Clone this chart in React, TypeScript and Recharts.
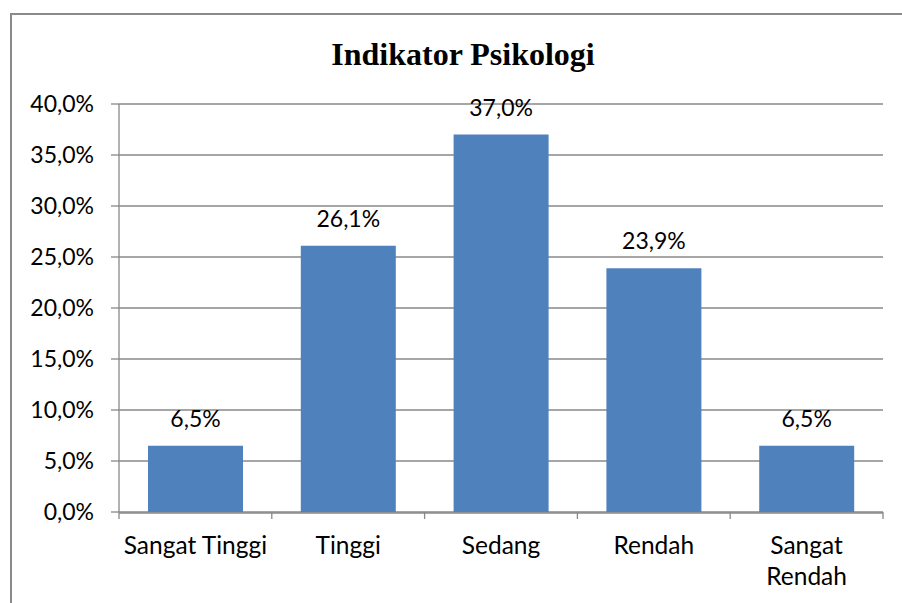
import React from "react";
import { BarChart, Bar, XAxis, YAxis, CartesianGrid, LabelList } from "recharts";

const categories = ["Sangat Tinggi", "Tinggi", "Sedang", "Rendah", "Sangat Rendah"];
const tickLabelLines = [["Sangat Tinggi"], ["Tinggi"], ["Sedang"], ["Rendah"], ["Sangat", "Rendah"]];
const values = [6.5, 26.1, 37.0, 23.9, 6.5];
const yTicks = [0, 5, 10, 15, 20, 25, 30, 35, 40];
const boundaryTicks = [0, 1, 2, 3, 4, 5];
const title = "Indikator Psikologi";

const data = categories.map((c, i) => ({ name: c, idx: i + 0.5, value: values[i] }));

const FONT = "Lato, 'Open Sans', sans-serif";
const GRID = "#898989";
const fmt = (v: number) => v.toFixed(1).replace(".", ",") + "%";

const CatTick = (props: any) => {
  const { x, y, payload } = props;
  const idx = categories.indexOf(payload.value);
  const lines = idx >= 0 ? tickLabelLines[idx] : [String(payload.value)];
  return (
    <text x={x} y={y} textAnchor="middle" fill="#000" fontFamily={FONT} fontSize={24.5}>
      {lines.map((l: string, i: number) => (
        <tspan key={i} x={x} dy={i === 0 ? 41 : 31}>
          {l}
        </tspan>
      ))}
    </text>
  );
};

const EmptyTick = () => <g />;

export default function App() {
  return (
    <div style={{ position: "absolute", left: 0, top: 0, width: 902, height: 603, overflow: "hidden", background: "#fff" }}>
      <div
        style={{
          position: "absolute",
          left: 10,
          top: 13,
          width: 1000,
          height: 700,
          border: "2px solid #8a8a8a",
          boxSizing: "border-box",
        }}
      />
      <div
        style={{
          position: "absolute",
          left: 0,
          width: 926,
          top: 34,
          textAlign: "center",
          fontFamily: "'Liberation Serif', 'Times New Roman', serif",
          fontWeight: "bold",
          fontSize: 32,
          lineHeight: "40px",
          color: "#000",
        }}
      >
        {title}
      </div>
      <div style={{ position: "absolute", left: 0, top: 0 }}>
        <BarChart
          width={902}
          height={603}
          data={data}
          margin={{ top: 104, right: 19, bottom: 11, left: 59 }}
        >
          <CartesianGrid vertical={false} stroke={GRID} strokeWidth={1.3} xAxisId={1} />
          <XAxis
            xAxisId={0}
            type="number"
            dataKey="idx"
            domain={[0, 5]}
            ticks={boundaryTicks}
            tick={<EmptyTick />}
            tickLine={{ stroke: GRID, strokeWidth: 1.3 }}
            tickSize={7}
            axisLine={false}
            height={1}
            interval={0}
          />
          <XAxis
            xAxisId={1}
            dataKey="name"
            type="category"
            tickLine={false}
            tickSize={0}
            tickMargin={0}
            axisLine={{ stroke: GRID, strokeWidth: 1.3 }}
            tick={<CatTick />}
            interval={0}
            height={79}
          />
          <YAxis
            domain={[0, 40]}
            ticks={yTicks}
            tickFormatter={fmt}
            width={60}
            tickSize={8}
            tickMargin={17}
            axisLine={{ stroke: GRID, strokeWidth: 1.3 }}
            tickLine={{ stroke: GRID, strokeWidth: 1.3 }}
            tick={{ fill: "#000", fontFamily: FONT, fontSize: 23 }}
            interval={0}
          />
          <Bar dataKey="value" xAxisId={1} fill="#4F81BD" barSize={95} isAnimationActive={false}>
            <LabelList
              dataKey="value"
              position="top"
              offset={19}
              formatter={(v: any) => fmt(Number(v))}
              fill="#000"
              fontFamily={FONT}
              fontSize={23}
            />
          </Bar>
        </BarChart>
      </div>
    </div>
  );
}
